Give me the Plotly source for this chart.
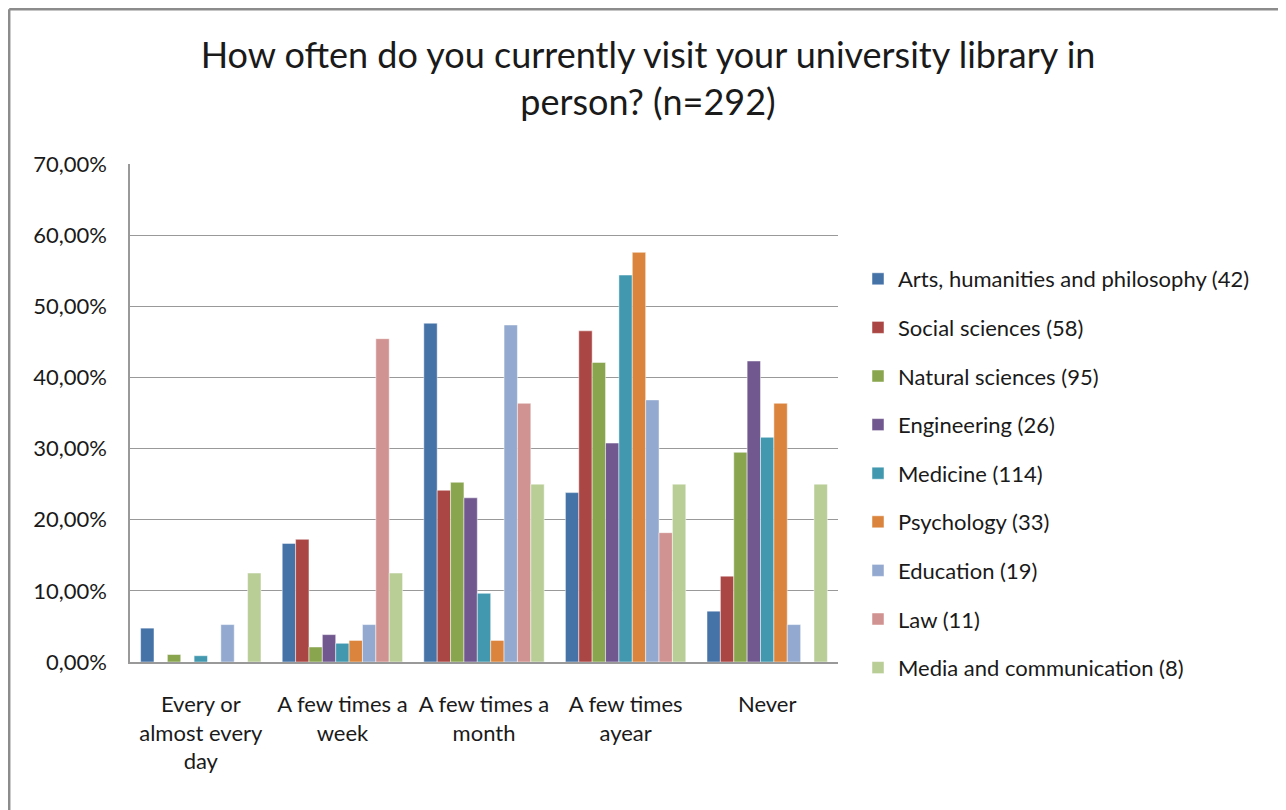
import plotly.graph_objects as go

# the page puts the figure 8px in from the top-left corner
OFF = 8
W, H = 1278, 802

TITLE = "How often do you currently visit your university library in<br>person? (n=292)"

CATEGORIES = [
    "Every or<br>almost every<br>day",
    "A few times a<br>week",
    "A few times a<br>month",
    "A few times<br>ayear",
    "Never",
]

SERIES_NAMES = [
    "Arts, humanities and philosophy (42)",
    "Social sciences (58)",
    "Natural sciences (95)",
    "Engineering (26)",
    "Medicine (114)",
    "Psychology (33)",
    "Education (19)",
    "Law (11)",
    "Media and communication (8)",
]

# percent of respondents per faculty, one list per faculty
arts = [4.76, 16.67, 47.62, 23.81, 7.14]
social = [0.0, 17.24, 24.14, 46.55, 12.07]
natural = [1.05, 2.11, 25.26, 42.11, 29.47]
engineering = [0.0, 3.85, 23.08, 30.77, 42.31]
medicine = [0.88, 2.63, 9.65, 54.39, 31.58]
psychology = [0.0, 3.03, 3.03, 57.58, 36.36]
education = [5.26, 5.26, 47.37, 36.84, 5.26]
law = [0.0, 45.45, 36.36, 18.18, 0.0]
media = [12.5, 12.5, 25.0, 25.0, 25.0]

SERIES_VALUES = [arts, social, natural, engineering, medicine,
                 psychology, education, law, media]

COLORS = ["#4572A7", "#AA4643", "#89A54E", "#71588F", "#4198AF",
          "#DB843D", "#93A9CF", "#D19392", "#B9CD96"]

Y_TICKS = [0, 10, 20, 30, 40, 50, 60, 70]
Y_TICK_TEXT = ["0,00%", "10,00%", "20,00%", "30,00%", "40,00%",
               "50,00%", "60,00%", "70,00%"]

FONT = "Lato, Calibri, Arial, sans-serif"
TEXT_COLOR = "#1a1a1a"


def px_x(x):
    return (x - OFF) / W


def px_y(y):
    return 1 - (y - OFF) / H


fig = go.Figure()

for i, (name, vals) in enumerate(zip(SERIES_NAMES, SERIES_VALUES)):
    fig.add_trace(go.Bar(
        x=CATEGORIES, y=vals, name=name,
        marker=dict(color=COLORS[i],
                    line=dict(color="rgba(255,255,255,0.6)", width=0.8)),
        legendgroup=f"g{i}",
    ))

fig.update_layout(
    width=W, height=H, autosize=False,
    margin=dict(l=0, r=0, t=0, b=0, autoexpand=False),
    paper_bgcolor="white", plot_bgcolor="white",
    barmode="group", bargap=0.15, bargroupgap=0,
    font=dict(family=FONT, color=TEXT_COLOR, size=22),
    title=dict(text=TITLE, x=px_x(648), xanchor="center",
               y=px_y(68), yanchor="top",
               font=dict(family=FONT, size=36, color=TEXT_COLOR)),
    legend=dict(x=px_x(858), xanchor="left", y=px_y(258), yanchor="top",
                font=dict(family=FONT, size=22, color=TEXT_COLOR),
                traceorder="grouped", tracegroupgap=17,
                bgcolor="rgba(0,0,0,0)"),
    xaxis=dict(domain=[px_x(130), px_x(838)], showline=True,
               linecolor="#999999", linewidth=1.5, ticks="",
               automargin=False, ticklabelstandoff=22,
               tickfont=dict(size=22)),
    yaxis=dict(domain=[px_y(662), px_y(164)], range=[0, 70],
               tickvals=Y_TICKS, ticktext=Y_TICK_TEXT,
               showgrid=True, gridcolor="#999999", gridwidth=1.3,
               showline=True, linecolor="#999999", linewidth=1.5,
               zeroline=False, ticks="", automargin=False,
               ticklabelstandoff=17, tickfont=dict(size=22)),
    showlegend=True,
)

# outer chart border (cut off on right and bottom like the source)
fig.add_shape(type="line", xref="paper", yref="paper",
              x0=1.2 / W, x1=1.2 / W, y0=0, y1=1 - 1.2 / H,
              line=dict(color="#8c8c8c", width=2.5))
fig.add_shape(type="line", xref="paper", yref="paper",
              x0=1.2 / W, x1=1, y0=1 - 1.2 / H, y1=1 - 1.2 / H,
              line=dict(color="#8c8c8c", width=2.5))

fig.write_html("out.html")
